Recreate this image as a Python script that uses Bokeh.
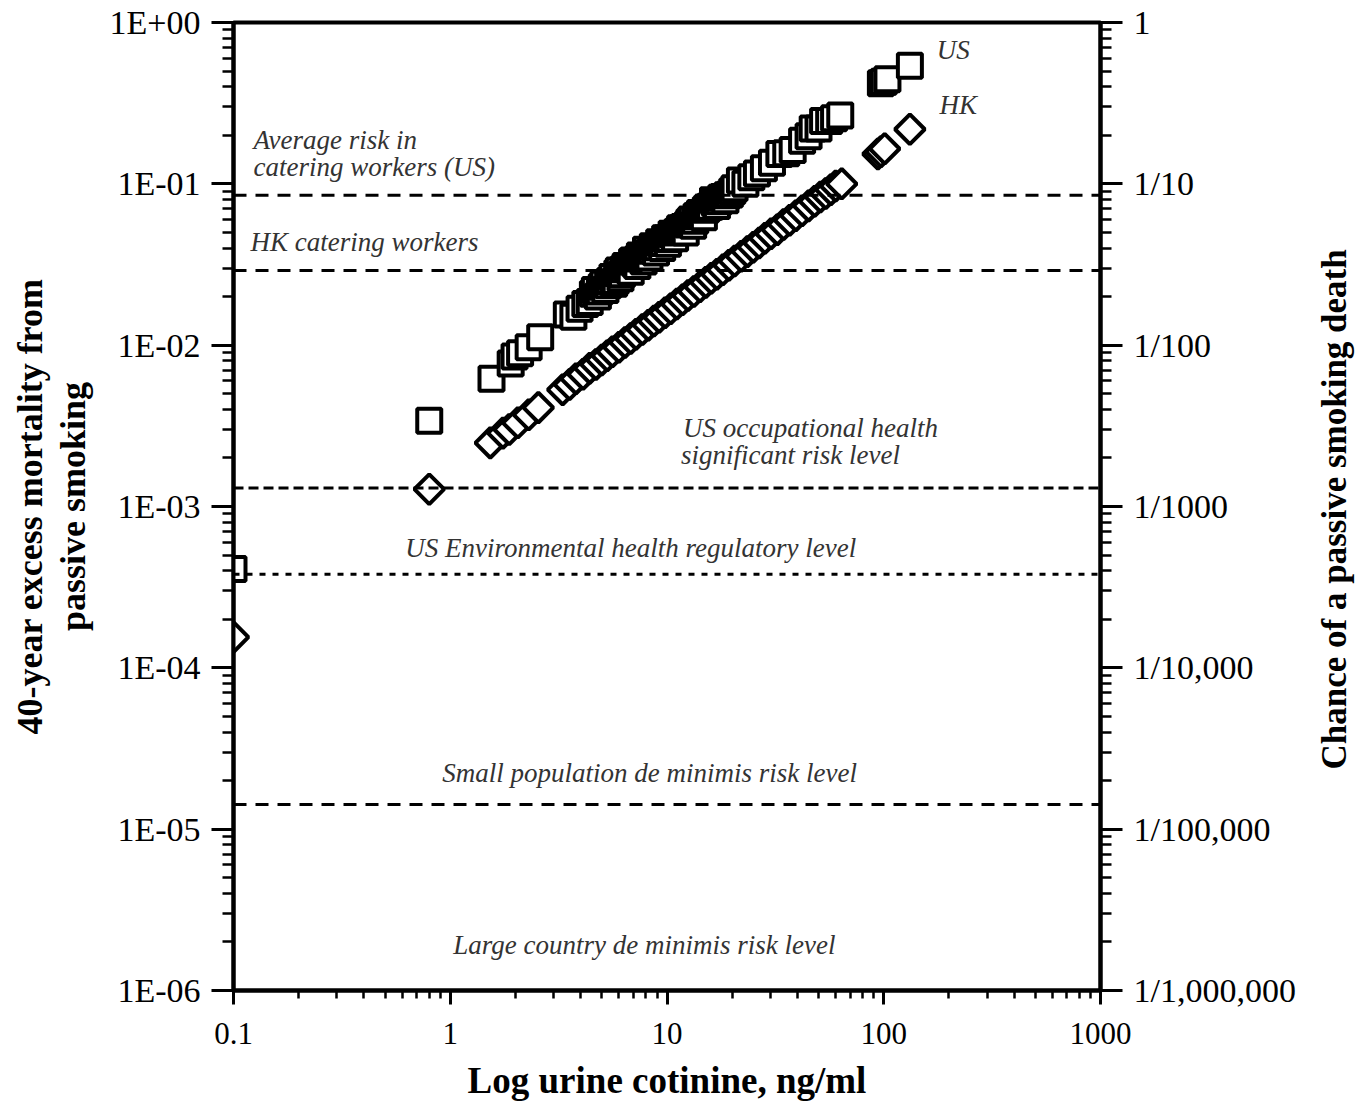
import json
import math
from bokeh.plotting import figure
from bokeh.layouts import row
from bokeh.models import (LogAxis, FixedTicker, CustomJSTickFormatter, Span, Label, Range1d)
from bokeh.embed import file_html
from bokeh.resources import INLINE

# ---------------- data ----------------
us_cotinine = [0.1, 0.8, 1.55, 1.9, 1.98, 2.1, 2.3, 2.6, 3.45, 3.7, 3.95, 4.2, 4.4, 4.55,
               4.65, 4.8, 4.9, 5.0, 5.1, 5.2, 5.35, 5.45, 5.6, 5.7, 5.8, 5.9, 6.0, 6.1,
               6.2, 6.3, 6.45, 6.55, 6.7, 6.8, 6.9, 7.0, 7.15, 7.3, 7.4, 7.5, 7.65, 7.8,
               7.9, 8.0, 8.15, 8.3, 8.45, 8.6, 8.75, 8.9, 9.05, 9.2, 9.35, 9.5, 9.65,
               9.8, 10.0, 10.1, 10.3, 10.5, 10.7, 10.9, 11.1, 11.3, 11.5, 11.8, 12.0,
               12.2, 12.5, 12.7, 13.0, 13.2, 13.5, 13.7, 14.0, 14.2, 14.5, 14.8, 15.1,
               15.4, 15.8, 16.3, 16.6, 17.0, 17.4, 17.8, 18.2, 18.6, 19.0, 19.5, 20.0,
               20.5, 21.7, 23.0, 24.5, 26.0, 28.0, 30.5, 33.0, 35.5, 38.0, 42.0, 45.0,
               47.0, 50.0, 52.5, 56.0, 59.0, 63.0, 97.0, 100.0, 104.0, 132.0]
us_risk = [4.1e-4, 3.4e-3, 6.2e-3, 7.7e-3, 8.5e-3, 8.9e-3, 9.7e-3, 1.12e-2, 1.55e-2,
           1.5e-2, 1.68e-2, 1.8e-2, 1.85e-2, 2.08e-2, 2.2e-2, 2.0e-2, 2.15e-2, 2.3e-2,
           2.4e-2, 2.2e-2, 2.35e-2, 2.5e-2, 2.65e-2, 2.4e-2, 2.5e-2, 2.8e-2, 2.9e-2,
           2.6e-2, 2.75e-2, 2.95e-2, 3.1e-2, 3.0e-2, 3.05e-2, 2.85e-2, 3.3e-2, 3.35e-2,
           3.2e-2, 3.1e-2, 3.45e-2, 3.6e-2, 3.45e-2, 3.3e-2, 3.6e-2, 3.9e-2, 3.7e-2,
           3.5e-2, 3.85e-2, 4.1e-2, 4.0e-2, 3.75e-2, 4.05e-2, 4.35e-2, 4.3e-2, 4.0e-2,
           4.3e-2, 4.6e-2, 4.6e-2, 4.25e-2, 4.55e-2, 4.9e-2, 4.8e-2, 4.6e-2, 5.0e-2,
           5.1e-2, 5.3e-2, 5.3e-2, 5.4e-2, 5.0e-2, 5.6e-2, 5.8e-2, 6.0e-2, 5.5e-2,
           5.9e-2, 6.3e-2, 6.4e-2, 6.6e-2, 6.5e-2, 6.2e-2, 6.9e-2, 7.1e-2, 7.2e-2,
           7.9e-2, 7.6e-2, 7.3e-2, 7.8e-2, 8.2e-2, 8.3e-2, 7.9e-2, 8.5e-2, 8.6e-2,
           9.0e-2, 9.4e-2, 1.05e-1, 1.0e-1, 1.1e-1, 1.16e-1, 1.25e-1, 1.35e-1,
           1.53e-1, 1.55e-1, 1.62e-1, 1.85e-1, 1.97e-1, 2.2e-1, 2.2e-1, 2.45e-1,
           2.45e-1, 2.55e-1, 2.65e-1, 4.2e-1, 4.3e-1, 4.45e-1, 5.4e-1]

hk_cotinine = [0.1, 0.8, 1.53, 1.75, 1.87, 2.05, 2.3, 2.55, 3.3, 3.55, 3.8, 4.1, 4.4,
               4.7, 5.0, 5.3, 5.6, 6.0, 6.4, 6.8, 7.2, 7.7, 8.2, 8.7, 9.2, 9.8, 10.4,
               11.1, 11.8, 12.5, 13.3, 14.2, 15.1, 16.0, 17.0, 18.1, 19.3, 20.5, 22.0,
               23.5, 25.0, 26.6, 28.3, 30.2, 32.3, 34.5, 36.8, 39.3, 42.0, 45.0, 48.0,
               51.0, 54.0, 57.0, 60.0, 64.0, 94.0, 97.0, 101.0, 132.0]
hk_risk = [1.55e-4, 1.28e-3, 2.48e-3, 2.85e-3, 3.0e-3, 3.3e-3, 3.7e-3, 4.1e-3, 5.3e-3,
           5.7e-3, 6.2e-3, 6.6e-3, 7.2e-3, 7.6e-3, 8.1e-3, 8.6e-3, 9.1e-3, 9.7e-3,
           1.04e-2, 1.1e-2, 1.17e-2, 1.25e-2, 1.33e-2, 1.41e-2, 1.49e-2, 1.59e-2,
           1.68e-2, 1.8e-2, 1.91e-2, 2.03e-2, 2.15e-2, 2.3e-2, 2.45e-2, 2.6e-2,
           2.75e-2, 2.93e-2, 3.13e-2, 3.32e-2, 3.56e-2, 3.8e-2, 4.05e-2, 4.3e-2,
           4.6e-2, 4.9e-2, 5.2e-2, 5.6e-2, 5.95e-2, 6.35e-2, 6.8e-2, 7.3e-2, 7.8e-2,
           8.3e-2, 8.7e-2, 9.2e-2, 9.7e-2, 1.0e-1, 1.53e-1, 1.58e-1, 1.65e-1, 2.18e-1]

level_names = ["Average risk in catering workers (US)", "HK catering workers",
               "US occupational health significant risk level",
               "US Environmental health regulatory level",
               "Small population de minimis risk level"]
level_values = [0.085, 0.029, 1.3e-3, 3.8e-4, 1.42e-5]

x_ticks = [0.1, 1, 10, 100, 1000]
x_tick_labels = ["0.1", "1", "10", "100", "1000"]
y_ticks = [1, 0.1, 0.01, 1e-3, 1e-4, 1e-5, 1e-6]
y_left_labels = ["1E+00", "1E-01", "1E-02", "1E-03", "1E-04", "1E-05", "1E-06"]
y_right_labels = ["1", "1/10", "1/100", "1/1000", "1/10,000", "1/100,000", "1/1,000,000"]

x_title = "Log urine cotinine, ng/ml"
y_title_lines = ["40-year excess mortality from", "passive smoking"]
y_right_title = "Chance of a passive smoking death"

# ---------------- styling ----------------
level_dashes = ["13 9", "13 9", "10 5", "6 7", "13 9"]
SERIF = "Liberation Serif"


def fmt(ticks, labels):
    code = (
        "const t = %s;\nconst l = %s;\n"
        "for (let i = 0; i < t.length; i++) {\n"
        "  if (Math.abs(Math.log10(tick) - Math.log10(t[i])) < 1e-6) return l[i];\n"
        "}\nreturn '';" % (json.dumps(ticks), json.dumps(labels))
    )
    return CustomJSTickFormatter(code=code)


W_SIDE = 50
W, H = 1358 - W_SIDE, 1105
FL, FR, FT, FB = 233, 1100, 22, 990
p = figure(width=W, height=H, x_axis_type="log", y_axis_type="log",
           x_range=Range1d(0.1, 1000), y_range=Range1d(1e-6, 1),
           output_backend="svg", toolbar_location=None,
           min_border_left=FL, min_border_right=W - FR,
           min_border_top=FT, min_border_bottom=H - FB)
p.grid.visible = False
p.background_fill_color = "white"
p.border_fill_color = "white"
p.outline_line_color = "black"
p.outline_line_width = 4


def style_axis(ax, tick_out, minor_out, standoff, label_size, title_size):
    ax.major_tick_out = tick_out
    ax.major_tick_in = 0
    ax.minor_tick_out = minor_out
    ax.minor_tick_in = 0
    ax.major_tick_line_width = 3
    ax.minor_tick_line_width = 2.5
    ax.major_tick_line_color = "black"
    ax.minor_tick_line_color = "black"
    ax.axis_line_width = 4
    ax.axis_line_color = "black"
    ax.major_label_standoff = standoff
    ax.major_label_text_font = SERIF
    ax.major_label_text_font_size = label_size
    ax.major_label_text_color = "black"
    ax.axis_label_text_font = SERIF
    ax.axis_label_text_font_style = "bold"
    ax.axis_label_text_font_size = title_size
    ax.axis_label_text_color = "black"


y_minor = [t * m for t in y_ticks[1:] for m in range(2, 10)]
x_minor = [t * m for t in x_ticks[:-1] for m in range(2, 10)]

xa = p.xaxis[0]
xa.ticker = FixedTicker(ticks=x_ticks, minor_ticks=x_minor)
xa.formatter = fmt(x_ticks, x_tick_labels)
style_axis(xa, 14, 8, 18, "31px", "37px")
xa.axis_label = x_title
xa.axis_label_standoff = 13

ya = p.yaxis[0]
ya.ticker = FixedTicker(ticks=y_ticks, minor_ticks=y_minor)
ya.formatter = fmt(y_ticks, y_left_labels)
style_axis(ya, 22, 11, 11, "34px", "36px")
ya.axis_label = y_title_lines[1]
ya.axis_label_standoff = 14

ya2 = LogAxis(ticker=FixedTicker(ticks=[]), axis_label=y_title_lines[0])
style_axis(ya2, 0, 0, 0, "34px", "36px")
ya2.axis_line_color = None
ya2.major_tick_line_color = None
ya2.minor_tick_line_color = None
ya2.axis_label_standoff = 0
p.add_layout(ya2, "left")

yr = LogAxis(ticker=FixedTicker(ticks=y_ticks, minor_ticks=y_minor),
             formatter=fmt(y_ticks, y_right_labels))
style_axis(yr, 22, 11, 11, "34px", "36px")
p.add_layout(yr, "right")

# ---------------- marks ----------------
p.scatter(us_cotinine, us_risk, marker="square", size=24, fill_color="white",
          line_color="black", line_width=4)
p.scatter(hk_cotinine, hk_risk, marker="square", angle=math.pi / 4, size=21,
          fill_color="white", line_color="black", line_width=4)

for v, d in zip(level_values, level_dashes):
    p.add_layout(Span(location=v, dimension="width", line_color="black",
                      line_width=3, line_dash=d))

# ---------------- annotations ----------------
notes = [
    (0.1236, 0.188, "Average risk in"),
    (0.1236, 0.128, "catering workers (US)"),
    (0.1198, 0.0433, "HK catering workers"),
    (11.85, 3.08e-3, "US occupational health"),
    (11.6, 2.1e-3, "significant risk level"),
    (0.62, 5.56e-4, "US Environmental health regulatory level"),
    (0.919, 2.24e-5, "Small population de minimis risk level"),
    (1.032, 1.92e-6, "Large country de minimis risk level"),
    (175.4, 0.671, "US"),
    (181.0, 0.31, "HK"),
]
for x, y, t in notes:
    p.add_layout(Label(x=x, y=y, text=t, text_font=SERIF, text_font_style="italic",
                       text_font_size="27px", text_color="#333333",
                       text_baseline="middle", text_align="left"))

# ---------------- right-hand title (reads bottom-to-top) ----------------
side = figure(width=W_SIDE, height=H, y_axis_type="log",
              x_range=Range1d(0, 1), y_range=Range1d(1e-6, 1),
              x_axis_location=None, y_axis_location=None,
              output_backend="svg", toolbar_location=None,
              min_border_left=0, min_border_right=0,
              min_border_top=FT, min_border_bottom=H - FB)
side.grid.visible = False
side.outline_line_color = None
side.background_fill_color = "white"
side.border_fill_color = "white"
side.add_layout(Label(x=0.52, y=9.6e-4, text=y_right_title, angle=math.pi / 2,
                      text_font=SERIF, text_font_style="bold", text_font_size="35px",
                      text_color="black", text_align="center", text_baseline="middle"))

layout = row(p, side, spacing=0)
open("out.html", "w").write(file_html(layout, INLINE))
